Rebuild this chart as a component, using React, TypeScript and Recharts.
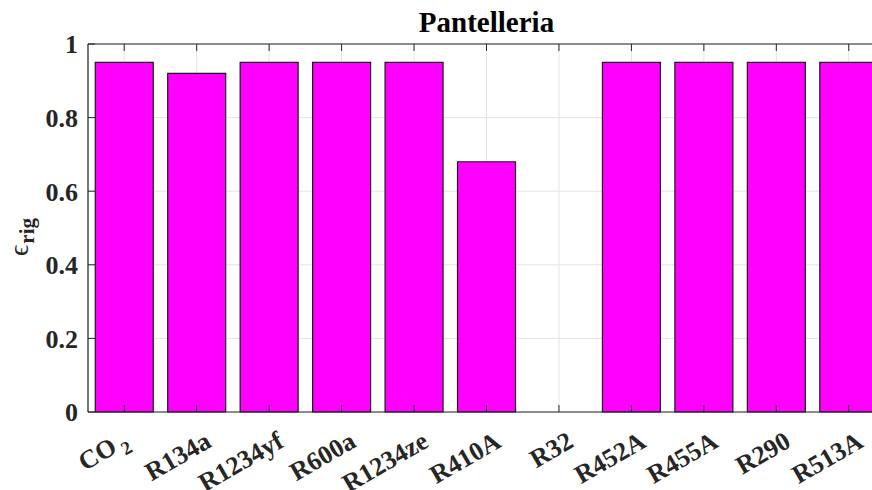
import { Bar, BarChart, CartesianGrid, ReferenceLine, XAxis, YAxis } from "recharts";

// Refrigeration efficiency per refrigerant, Pantelleria site.
const refrigerants = [
  "CO2",
  "R134a",
  "R1234yf",
  "R600a",
  "R1234ze",
  "R410A",
  "R32",
  "R452A",
  "R455A",
  "R290",
  "R513A",
];
const epsRig = [0.95, 0.92, 0.95, 0.95, 0.95, 0.68, 0, 0.95, 0.95, 0.95, 0.95];
const yTicks = [0, 0.2, 0.4, 0.6, 0.8, 1];

const data = refrigerants.map((name, i) => ({ name, eps: epsRig[i] }));

const FONT = "'Liberation Serif', 'Times New Roman', 'DejaVu Serif', serif";
const AXIS = "#262626";
const GRID = "#e3e3e3";
const BAR = "#ff00ff";

// frame of the axes box (MATLAB style, ticks point inwards)
const CHART_W = 900;
const CHART_H = 490;
const PLOT_LEFT = 88;
const PLOT_TOP = 44;
const PLOT_BOTTOM = 412;
const TICK_LEN = 7;

function XTick(props: any) {
  const { x, payload } = props;
  const isCO2 = payload.value === "CO2";
  const tx = x + (isCO2 ? 6 : 16);
  const ty = PLOT_BOTTOM + (isCO2 ? 33 : 34);
  return (
    <g>
      <line x1={x} x2={x} y1={PLOT_BOTTOM} y2={PLOT_BOTTOM - TICK_LEN} stroke={AXIS} />
      <line x1={x} x2={x} y1={PLOT_TOP} y2={PLOT_TOP + TICK_LEN} stroke={AXIS} />
      <g transform={`translate(${tx},${ty})`}>
        <g transform="rotate(-30)">
          <text
            x={0}
            y={0}
            textAnchor="end"
            fontFamily={FONT}
            fontWeight="bold"
            fontSize={26}
            fill={AXIS}
          >
            {isCO2 ? (
              <>
                <tspan>CO</tspan>
                <tspan dx={4} dy={7} fontSize={19}>
                  2
                </tspan>
              </>
            ) : (
              payload.value
            )}
          </text>
        </g>
      </g>
    </g>
  );
}

function YTick(props: any) {
  const { y, payload } = props;
  return (
    <g>
      <line x1={PLOT_LEFT} x2={PLOT_LEFT + TICK_LEN} y1={y} y2={y} stroke={AXIS} />
      <text
        x={PLOT_LEFT - 10}
        y={y}
        dy="0.36em"
        textAnchor="end"
        fontFamily={FONT}
        fontWeight="bold"
        fontSize={26}
        fill={AXIS}
      >
        {String(payload.value)}
      </text>
    </g>
  );
}

function YLabel() {
  return (
    <text transform="translate(28,256) rotate(-90)" fontFamily={FONT} fill={AXIS}>
      <tspan fontSize={28}>ϵ</tspan>
      <tspan dx={1} dy={6} fontSize={21} fontWeight="bold">
        rig
      </tspan>
    </text>
  );
}

export default function App() {
  return (
    <div style={{ position: "absolute", left: 0, top: 0, width: CHART_W, height: CHART_H, background: "#fff" }}>
      <div
        style={{
          position: "absolute",
          left: 486.5,
          top: 8,
          transform: "translateX(-50%)",
          fontFamily: FONT,
          fontWeight: "bold",
          fontSize: 29,
          lineHeight: "29px",
          color: "#000",
          whiteSpace: "nowrap",
        }}
      >
        Pantelleria
      </div>
      <BarChart
        width={CHART_W}
        height={CHART_H}
        data={data}
        margin={{ top: PLOT_TOP, right: 15, bottom: 0, left: 0 }}
        barCategoryGap="10%"
      >
        <CartesianGrid stroke={GRID} strokeWidth={1} />
        <XAxis
          dataKey="name"
          height={CHART_H - PLOT_BOTTOM}
          interval={0}
          tickLine={false}
          axisLine={{ stroke: AXIS, strokeWidth: 1.2 }}
          tick={<XTick />}
        />
        <YAxis
          width={PLOT_LEFT}
          domain={[0, 1]}
          ticks={yTicks}
          tickLine={false}
          axisLine={{ stroke: AXIS, strokeWidth: 1.2 }}
          tick={<YTick />}
          label={{ content: () => <YLabel /> }}
        />
        <ReferenceLine y={1} stroke={AXIS} strokeWidth={1.2} />
        <Bar dataKey="eps" fill={BAR} stroke="#1a1a1a" strokeWidth={1.2} isAnimationActive={false} />
      </BarChart>
    </div>
  );
}
